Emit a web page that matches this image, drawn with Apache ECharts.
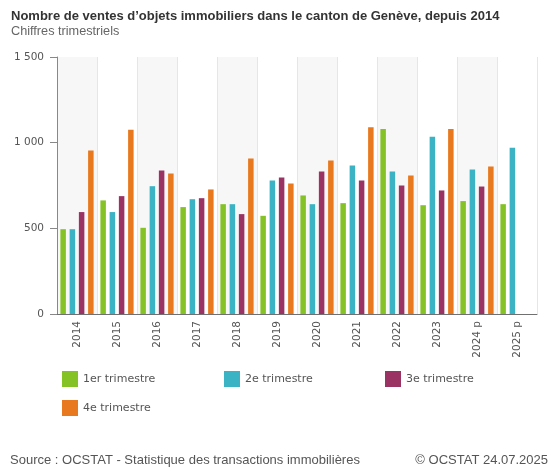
<!DOCTYPE html>
<html><head><meta charset="utf-8">
<script src="https://cdn.jsdelivr.net/npm/echarts@6/dist/echarts.min.js"></script>
<style>html,body{margin:0;padding:0;background:#fff}#c{width:557px;height:475px}</style>
</head><body><div id="c"></div>
<script>
var categories = ['2014','2015','2016','2017','2018','2019','2020','2021','2022','2023','2024 p','2025 p'];
var q1 = [495, 663, 503, 624, 641, 573, 692, 647, 1080, 635, 659, 641];
var q2 = [495, 595, 746, 670, 641, 779, 641, 867, 832, 1034, 843, 970];
var q3 = [595, 688, 837, 676, 583, 797, 832, 779, 750, 721, 744, null];
var q4 = [955, 1075, 820, 727, 907, 762, 896, 1090, 808, 1080, 861, null];
var seriesNames = ['1er trimestre', '2e trimestre', '3e trimestre', '4e trimestre'];
var yTicks = [0, 500, 1000, 1500];
var colors = ['#84c225', '#3bb3c4', '#9b3264', '#e8791e'];

var chart = echarts.init(document.getElementById('c'), null, {renderer: 'canvas'});
var values = [q1, q2, q3, q4];
var legendPos = [[62, 371], [224, 371], [385, 371], [62, 400]];
var font = 'DejaVu Sans, Verdana, sans-serif';
var arial = 'Liberation Sans, Arial, sans-serif';

function fmt(v) { return String(v).replace(/\B(?=(\d{3})+(?!\d))/g, ' '); }

var option = {
  animation: false,
  color: colors,
  title: [
    {text: 'Nombre de ventes d’objets immobiliers dans le canton de Genève, depuis 2014', left: 6, top: 5,
     textStyle: {fontFamily: arial, fontSize: 13, fontWeight: 'bold', color: '#333'}},
    {text: 'Chiffres trimestriels', left: 6, top: 20,
     textStyle: {fontFamily: arial, fontSize: 12.7, fontWeight: 'normal', color: '#666'}},
    {text: 'Source : OCSTAT - Statistique des transactions immobilières', left: 5, top: 449,
     textStyle: {fontFamily: arial, fontSize: 13, fontWeight: 'normal', color: '#555'}},
    {text: '© OCSTAT 24.07.2025', right: 4, top: 449,
     textStyle: {fontFamily: arial, fontSize: 13, fontWeight: 'normal', color: '#555'}}
  ],
  legend: seriesNames.map(function (n, i) {
    return {data: [n], left: legendPos[i][0], top: legendPos[i][1], padding: 0,
      itemWidth: 16, itemHeight: 16, icon: 'rect', itemGap: 5,
      textStyle: {fontFamily: font, fontSize: 11, color: '#555'}};
  }),
  grid: {left: 57, right: 20, top: 57, bottom: 161, containLabel: false},
  xAxis: {
    type: 'category', data: categories, boundaryGap: true,
    axisLine: {lineStyle: {color: '#707070'}},
    axisTick: {alignWithLabel: true, length: 5, lineStyle: {color: '#707070'}},
    axisLabel: {rotate: 90, margin: 7, fontFamily: font, fontSize: 10.5, color: '#555', interval: 0},
    splitLine: {show: true, interval: 0, lineStyle: {color: '#e6e6e6'}},
    splitArea: {show: true, interval: 0, areaStyle: {color: ['#f7f7f7', '#ffffff']}}
  },
  yAxis: {
    type: 'value', min: yTicks[0], max: yTicks[yTicks.length - 1], interval: 500,
    axisLine: {show: true, lineStyle: {color: '#888'}},
    axisTick: {show: true, length: 7, lineStyle: {color: '#888'}},
    axisLabel: {margin: 13, fontFamily: font, fontSize: 10.5, color: '#555', formatter: fmt},
    splitLine: {lineStyle: {color: '#e6e6e6'}}
  },
  series: seriesNames.map(function (n, i) {
    return {name: n, type: 'bar', data: values[i], barWidth: 5.5, barGap: '68%',
      itemStyle: {color: colors[i]}};
  })
};
chart.setOption(option);
</script></body></html>
